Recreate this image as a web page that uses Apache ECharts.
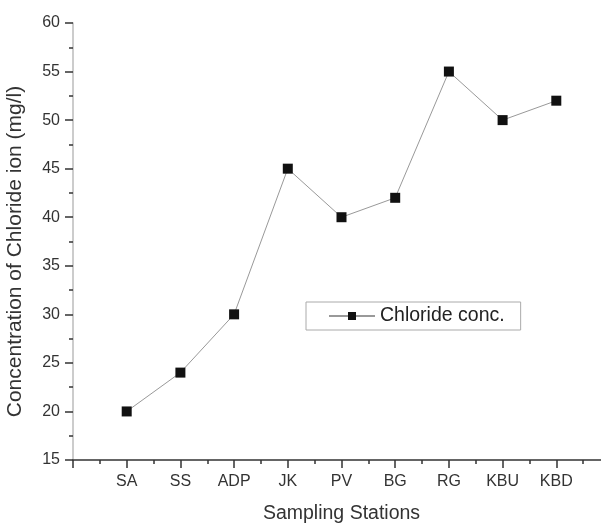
<!DOCTYPE html>
<html><head><meta charset="utf-8">
<script src="https://cdn.jsdelivr.net/npm/echarts@6/dist/echarts.min.js"></script>
<style>html,body{margin:0;padding:0;background:#fff}#c{width:601px;height:523px}</style>
</head><body><div id="c"></div>
<script>
const categories = ['SA','SS','ADP','JK','PV','BG','RG','KBU','KBD'];
const chloride = [20, 24, 30, 45, 40, 42, 55, 50, 52];
const seriesName = 'Chloride conc.';
const yTicks = [15,20,25,30,35,40,45,50,55,60];

const chart = echarts.init(document.getElementById('c'), null, {renderer:'canvas'});
const font = '"Liberation Sans", Arial, sans-serif';
chart.setOption({
  animation:false,
  backgroundColor:'#fff',
  textStyle:{fontFamily:font},
  grid:{left:73, top:23, bottom:63, right:-9, containLabel:false, outerBoundsMode:'none'},
  legend:{
    left:306, top:302, width:214, height:29,
    data:[seriesName],
    borderColor:'#aaa', borderWidth:1, padding:[4,16,4,22],
    itemWidth:46, itemHeight:10, itemGap:6,
    textStyle:{fontSize:19.5, color:'#222', fontFamily:font}
  },
  xAxis:{
    type:'value', min:0, max:10, interval:1,
    name:'Sampling Stations', nameLocation:'middle', nameGap:44,
    nameTextStyle:{fontSize:19.5, color:'#333'},
    axisLine:{lineStyle:{color:'#333', width:1.5}},
    axisTick:{show:true, inside:false, length:8, lineStyle:{color:'#333', width:1.5}},
    minorTick:{show:true, splitNumber:2, length:4, lineStyle:{color:'#333', width:1.5}},
    axisLabel:{fontSize:16, color:'#333', margin:14,
      formatter:v => (Number.isInteger(v) && v>=1 && v<=categories.length) ? categories[v-1] : ''},
    splitLine:{show:false}
  },
  yAxis:{
    type:'value', min:15, max:60, interval:5,
    name:'Concentration of Chloride ion (mg/l)', nameLocation:'middle', nameGap:47,
    nameTextStyle:{fontSize:21, color:'#333', padding:[0,20,0,0]},
    axisLine:{show:true, lineStyle:{color:'#bbb', width:1.5}},
    axisTick:{show:true, inside:false, length:8, lineStyle:{color:'#333', width:1.5}},
    minorTick:{show:true, splitNumber:2, length:4, lineStyle:{color:'#333', width:1.5}},
    axisLabel:{fontSize:16, color:'#333', margin:13,
      formatter:v => yTicks.includes(v) ? String(v) : ''},
    splitLine:{show:false}
  },
  series:[{
    name:seriesName, type:'line',
    data:chloride.map((v,i)=>[i+1, v]),
    symbol:'rect', symbolSize:10,
    itemStyle:{color:'#111'},
    lineStyle:{color:'#999', width:1}
  }]
});
</script></body></html>
